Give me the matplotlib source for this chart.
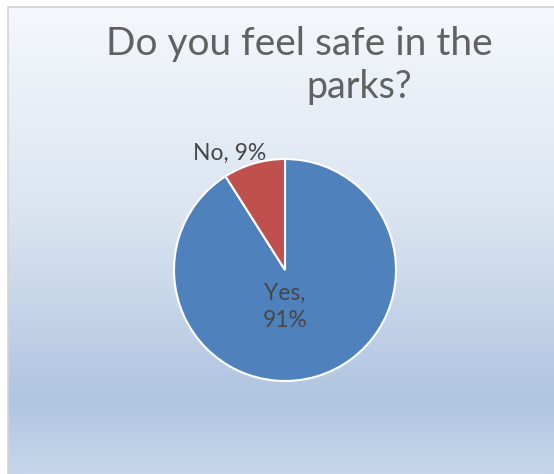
import matplotlib
matplotlib.use("Agg")
import matplotlib.pyplot as plt
import numpy as np
from matplotlib.colors import LinearSegmentedColormap
from matplotlib.patches import Rectangle

title_lines = ["Do you feel safe in the", "parks?"]
categories = ["Yes", "No"]
values = [91, 9]
colors = ["#4F81BD", "#C0504D"]

W, H = 554, 474
fig = plt.figure(figsize=(W / 100, H / 100), dpi=100)
fig.patch.set_facecolor("white")

# background gradient of the chart area
bg = fig.add_axes([8 / W, 0, 1 - 8 / W, 1 - 7 / H])
bg.set_axis_off()
grad_cmap = LinearSegmentedColormap.from_list(
    "bg", [(0.0, "#F5F8FC"), (0.45, "#DAE4F0"), (0.84, "#B0C5E1"), (1.0, "#C6D7EA")])
grad = np.linspace(0, 1, 256).reshape(-1, 1)
bg.imshow(grad, aspect="auto", cmap=grad_cmap, extent=[0, 1, 0, 1], origin="upper")
bg.set_xlim(0, 1)
bg.set_ylim(0, 1)
fig.patches.append(Rectangle((8 / W, -0.01), 1.1, 1 - 7 / H + 0.01, transform=fig.transFigure,
                             fill=False, edgecolor="#D4D4D4", linewidth=1.2))

font = ["Lato", "DejaVu Sans"]
fig.text(299 / W, 1 - 44 / H, title_lines[0], ha="center", va="center",
         fontsize=28, color="#616161", family=font)
fig.text(359 / W, 1 - 87 / H, title_lines[1], ha="center", va="center",
         fontsize=27, color="#616161", family=font)

# pie
cx, cy, r = 285, 270, 111
ax = fig.add_axes([(cx - r) / W, (H - cy - r) / H, 2 * r / W, 2 * r / H])
ax.pie(values, colors=colors, startangle=90, counterclock=False,
       wedgeprops=dict(edgecolor="white", linewidth=1.5))
ax.set_xlim(-1, 1)
ax.set_ylim(-1, 1)
ax.set_axis_off()

total = sum(values)
pct = [f"{v * 100 / total:.0f}%" for v in values]
ax.text(0, -0.33, f"{categories[0]},\n{pct[0]}", ha="center", va="center",
        fontsize=16.5, color="#474747", family=font, linespacing=1.35)
ax.text(-0.50, 1.05, f"{categories[1]}, {pct[1]}", ha="center", va="center",
        fontsize=16.5, color="#474747", family=font, clip_on=False)

fig.savefig("out.png", dpi=100, facecolor="white")
